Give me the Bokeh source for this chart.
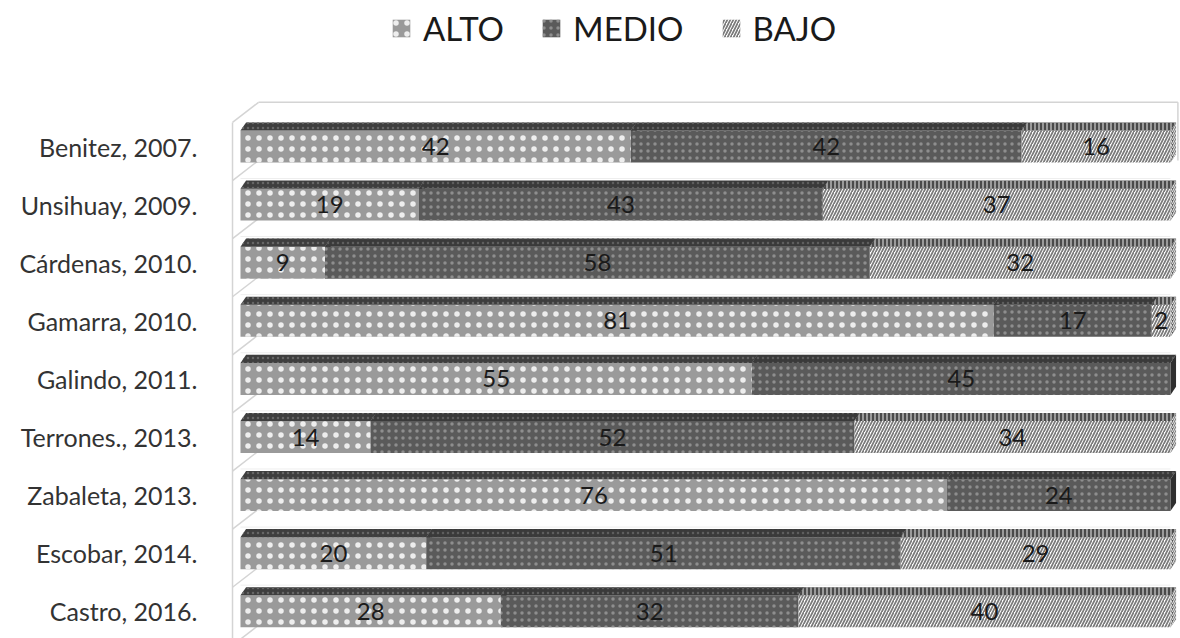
from bokeh.plotting import figure
from bokeh.models import Range1d, FixedTicker, Legend, LegendItem, ColumnDataSource
from bokeh.core.properties import value
from bokeh.embed import file_html
from bokeh.resources import INLINE

# ---- data ----
studies = ["Benitez, 2007.", "Unsihuay, 2009.", "Cárdenas, 2010.", "Gamarra, 2010.",
           "Galindo, 2011.", "Terrones., 2013.", "Zabaleta, 2013.", "Escobar, 2014.",
           "Castro, 2016."]
alto = [42, 19, 9, 81, 55, 14, 76, 20, 28]
medio = [42, 43, 58, 17, 45, 52, 24, 51, 32]
bajo = [16, 37, 32, 2, 0, 34, 0, 29, 40]
series_names = ["ALTO", "MEDIO", "BAJO"]

# ---- styles ----
FONT = "Lato"
BAR_H = 0.55
DEPTH = 0.14
SKEW = 0.6
front_style = [
    dict(fill_color="#9a9a9a", hatch_pattern="dot", hatch_color="#eeeeee", hatch_scale=11, hatch_weight=2.2),
    dict(fill_color="#5a5a5a", hatch_pattern="dot", hatch_color="#8e8e8e", hatch_scale=7, hatch_weight=2),
    dict(fill_color="#ffffff", hatch_pattern="right_diagonal_line", hatch_color="#7a7a7a", hatch_scale=6, hatch_weight=1.7),
]
top_style = [
    dict(fill_color="#3e3e3e", hatch_pattern="dot", hatch_color="#666666", hatch_scale=5, hatch_weight=1.5),
    dict(fill_color="#3a3a3a", hatch_pattern="dot", hatch_color="#5e5e5e", hatch_scale=5, hatch_weight=1.5),
    dict(fill_color="#4a4a4a", hatch_pattern="vertical_line", hatch_color="#bdbdbd", hatch_scale=4, hatch_weight=1.4),
]
side_style = [
    dict(fill_color="#333333"),
    dict(fill_color="#2e2e2e"),
    dict(fill_color="#555555", hatch_pattern="right_diagonal_line", hatch_color="#dddddd", hatch_scale=4, hatch_weight=1.2),
]

n = len(studies)
rows = list(range(n))
series = [alto, medio, bajo]
totals = [a + m + b for a, m, b in zip(alto, medio, bajo)]

p = figure(width=1180, height=638, output_backend="svg", toolbar_location=None,
           x_range=Range1d(-2.151, 101.08), y_range=Range1d(8.468, -2.513),
           min_border_left=220, min_border_right=0, min_border_top=0, min_border_bottom=0,
           x_axis_location=None)
p.outline_line_color = None
p.xgrid.visible = False
p.ygrid.visible = False
p.background_fill_color = "white"

# ---- walls (3D frame) ----
x_wall = -0.86
x_back = 1.94
seps = [i - 0.5 for i in range(n + 1)]
p.segment(x0=[x_wall] * len(seps), y0=[s + 0.086 for s in seps],
          x1=[x_back] * len(seps), y1=[s - 0.26 for s in seps],
          line_color="#d4d4d4", line_width=1.5)
p.segment(x0=[x_wall], y0=[seps[0] + 0.086], x1=[x_wall], y1=[9.0], line_color="#d4d4d4", line_width=1.5)
p.segment(x0=[x_back], y0=[seps[0] - 0.26], x1=[100.8], y1=[seps[0] - 0.26], line_color="#d4d4d4", line_width=1.5)
p.segment(x0=[100.8], y0=[seps[0] - 0.26], x1=[100.8], y1=[seps[1] - 0.26], line_color="#d4d4d4", line_width=1.5)
p.segment(x0=[0] * (n - 1), y0=[s + 0.05 for s in seps[1:-1]], x1=[100] * (n - 1),
          y1=[s + 0.05 for s in seps[1:-1]], line_color="#eeeeee", line_width=1)

# ---- bars ----
cum = [0.0] * n
legend_items = []
label_x, label_y, label_t = [], [], []
for k, vals in enumerate(series):
    lefts = [100.0 * c / t for c, t in zip(cum, totals)]
    cum = [c + v for c, v in zip(cum, vals)]
    rights = [100.0 * c / t for c, t in zip(cum, totals)]
    keep = [i for i in rows if vals[i] > 0]
    L = [lefts[i] for i in keep]
    R = [rights[i] for i in keep]
    Y = [rows[i] for i in keep]
    yt = [y - BAR_H / 2 for y in Y]
    yb = [y + BAR_H / 2 for y in Y]
    # side face
    p.patches(xs=[[r, r, r + SKEW, r + SKEW] for r in R],
              ys=[[a, b, b - DEPTH, a - DEPTH] for a, b in zip(yt, yb)],
              line_color=None, **side_style[k])
    # front face
    src = ColumnDataSource(dict(y=Y, left=L, right=R))
    fr = p.hbar(y="y", left="left", right="right", height=BAR_H, source=src,
                line_color=None, **front_style[k])
    legend_items.append(LegendItem(label=series_names[k], renderers=[fr]))
    # top face
    p.patches(xs=[[l, r, r + SKEW, l + SKEW] for l, r in zip(L, R)],
              ys=[[a, a, a - DEPTH, a - DEPTH] for a in yt],
              line_color=None, **top_style[k])
    for i in keep:
        label_x.append((lefts[i] + rights[i]) / 2)
        label_y.append(rows[i])
        label_t.append(str(vals[i]))

p.text(x=label_x, y=label_y, text=label_t, text_font=value(FONT), text_font_size="24px",
       text_color="#1a1a1a", text_align="center", text_baseline="middle")

# ---- category axis ----
p.yaxis.ticker = FixedTicker(ticks=rows)
p.yaxis.major_label_overrides = {i: s for i, s in zip(rows, studies)}
p.yaxis.axis_line_color = None
p.yaxis.major_tick_line_color = None
p.yaxis.minor_tick_line_color = None
p.yaxis.major_tick_in = 0
p.yaxis.major_tick_out = 0
p.yaxis.major_label_standoff = 23
p.yaxis.major_label_text_font = FONT
p.yaxis.major_label_text_font_size = "25px"
p.yaxis.major_label_text_color = "#333333"

# ---- legend ----
legend = Legend(items=legend_items, orientation="horizontal", location=(170, 590),
                glyph_width=22, glyph_height=22, label_standoff=11, spacing=36,
                label_text_font=FONT, label_text_font_size="33px", label_text_color="#1a1a1a",
                border_line_color=None, background_fill_alpha=0, padding=0, margin=0)
p.add_layout(legend)

open("out.html", "w").write(file_html(p, INLINE))
